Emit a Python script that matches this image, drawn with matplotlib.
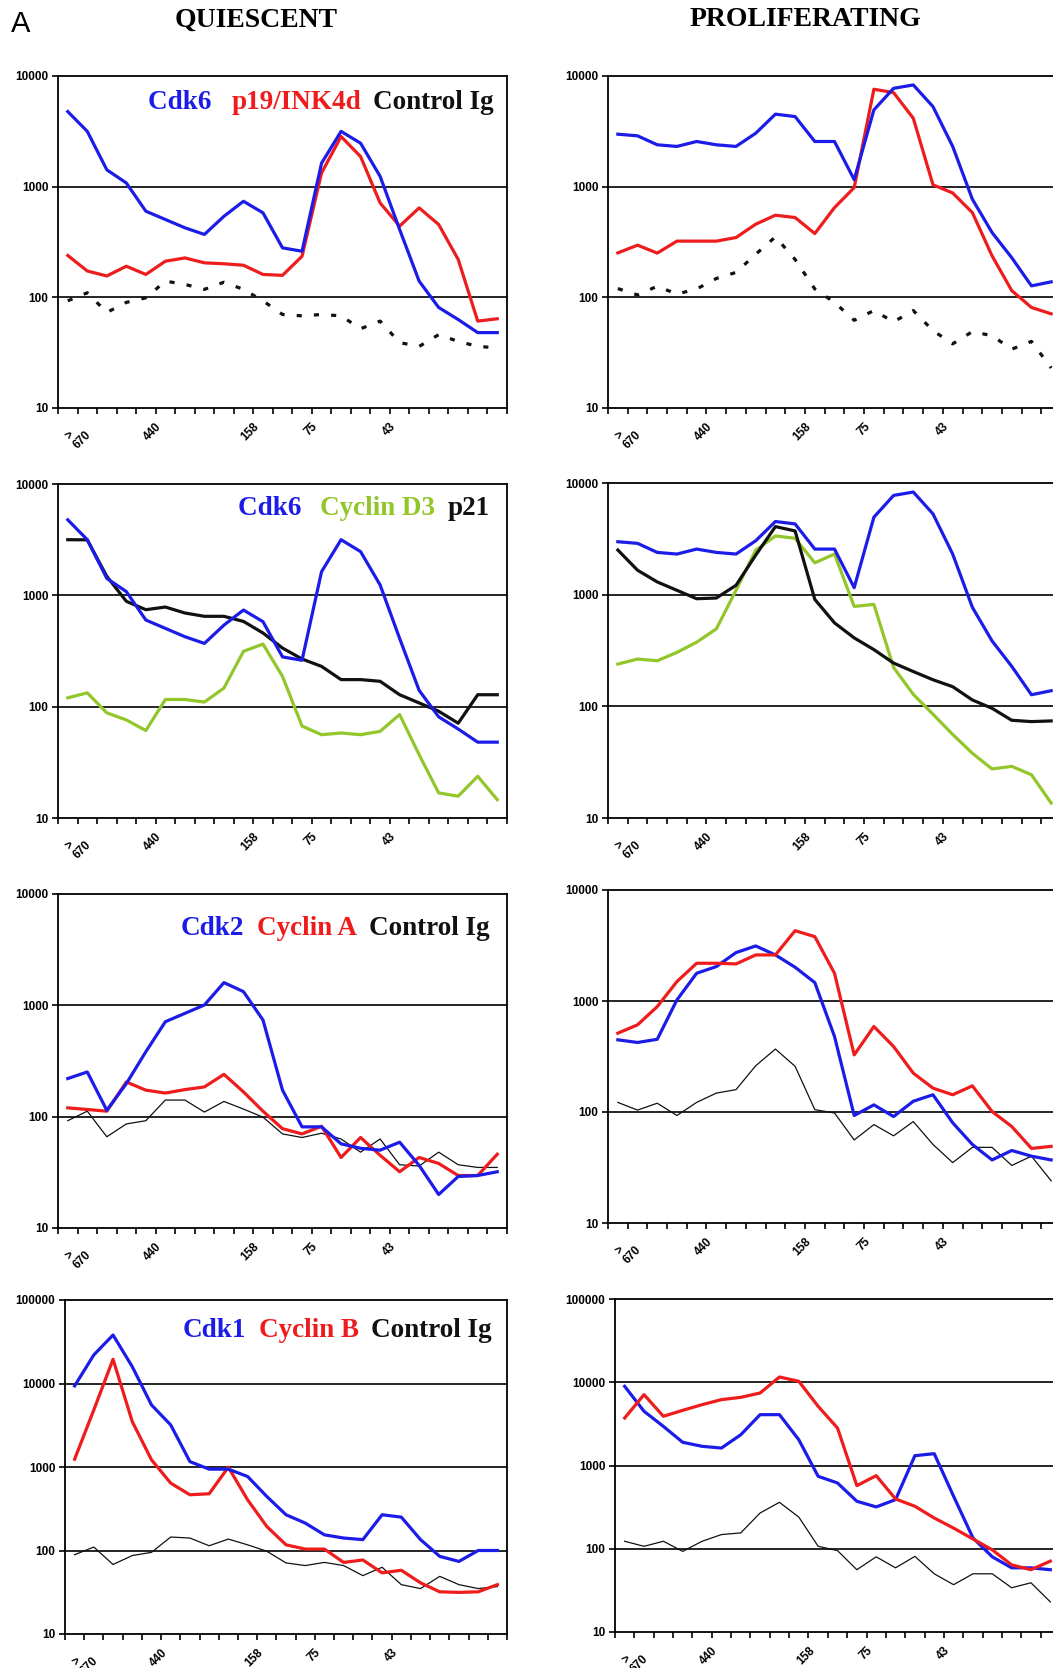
import numpy as np
import matplotlib
matplotlib.use("Agg")
from matplotlib import pyplot as plt
from matplotlib.ticker import NullLocator
from matplotlib.offsetbox import AnchoredOffsetbox, HPacker, TextArea

W, H = 1053, 1668  # output size in pixels, dpi=100

# gel filtration fractions, with size markers (kDa) on the category axis
n_fractions = 23
marker_pos = [1, 5, 10, 13, 17]
marker_labels = [">\n670", "440", "158", "75", "43"]

# --- row 1: Cdk6 / p19 / control Ig
cdk6_q = [4770, 3160, 1420, 1080, 600, 505, 425, 370, 540, 738, 580, 280, 261, 1630, 3160, 2470, 1240, 410, 140, 81, 63, 48, 48]
p19_q = [239, 173, 156, 191, 161, 212, 227, 205, 201, 195, 161, 158, 235, 1330, 2840, 1870, 713, 440, 643, 455, 220, 61, 64]
ctrl1_q = [93, 110, 73, 90, 99, 140, 131, 118, 137, 118, 93, 70, 68, 70, 68, 52, 61, 39, 36, 46, 40, 36, 35]
cdk6_p = [2980, 2880, 2390, 2310, 2560, 2390, 2310, 3040, 4520, 4300, 2560, 2560, 1156, 4940, 7740, 8300, 5290, 2310, 770, 385, 228, 127, 138]
p19_p = [252, 296, 251, 322, 322, 322, 347, 458, 552, 526, 377, 647, 980, 7590, 7080, 4150, 1040, 877, 583, 237, 115, 81, 71]
ctrl1_p = [120, 105, 126, 107, 119, 148, 168, 245, 352, 220, 119, 90, 62, 76, 60, 76, 50, 38, 49, 45, 34, 40, 23]

# --- row 2: Cdk6 / cyclin D3 / p21
cycd3_q = [120, 133, 88, 76, 61, 116, 116, 110, 147, 314, 365, 187, 67, 56, 58, 56, 60, 85, 37, 16.8, 15.7, 23.7, 14.6]
p21_q = [3160, 3150, 1480, 884, 743, 785, 694, 648, 648, 583, 459, 336, 268, 230, 175, 175, 169, 128, 108, 91, 71, 128, 128]
cycd3_p = [239, 265, 256, 304, 375, 494, 1094, 2506, 3355, 3200, 1928, 2310, 785, 818, 223, 128, 85, 56, 38, 27.5, 29, 24.4, 13.6]
p21_p = [2510, 1656, 1300, 1094, 920, 933, 1213, 2260, 4070, 3720, 907, 559, 410, 322, 244, 205, 173, 150, 114, 96, 75, 73, 74]

# --- row 3: Cdk2 / cyclin A / control Ig
cdk2_q = [220, 252, 114, 198, 383, 713, 847, 1007, 1600, 1328, 738, 173, 81, 81, 57, 52, 50, 59, 36.5, 20, 29, 29.6, 32]
cyca_q = [120, 116, 112, 205, 173, 163, 175, 185, 240, 167, 112, 78, 70, 82, 43, 65, 45, 32, 43, 38, 29.6, 29.6, 46]
ctrl3_q = [92, 112, 66, 86, 92, 141, 141, 110, 137, 117, 99, 70, 65, 71, 63, 48, 63, 37, 36, 48, 37, 35, 35]
cdk2_p = [447, 423, 452, 1023, 1778, 2042, 2730, 3133, 2600, 2014, 1465, 479, 93, 116, 91, 125, 143, 80, 51, 37, 45, 40, 37]
cyca_p = [513, 610, 890, 1496, 2188, 2188, 2158, 2600, 2600, 4300, 3800, 1778, 327, 589, 389, 224, 164, 143, 172, 101, 74, 47, 49]
ctrl3_p = [122, 104, 120, 93, 122, 148, 159, 261, 369, 258, 105, 98, 56, 77, 61, 82, 51, 35, 48, 48, 33, 40, 24]

# --- row 4: Cdk1 / cyclin B / control Ig
cdk1_q = [9360, 22000, 38100, 15900, 5540, 3190, 1160, 942, 942, 770, 444, 268, 213, 154, 141, 135, 268, 251, 135, 85, 74, 100, 100]
cycb_q = [1240, 4830, 19500, 3500, 1220, 641, 465, 478, 995, 405, 194, 117, 104, 104, 72, 77, 54, 58, 41, 32, 31.5, 32, 39]
ctrl4_q = [89, 110, 68, 87, 95, 145, 141, 114, 137, 117, 98, 71, 66, 72, 66, 50, 63, 39, 35, 49, 39, 35, 37]
cdk1_p = [8930, 4480, 2950, 1900, 1700, 1620, 2340, 4080, 4080, 2040, 741, 617, 372, 318, 389, 1312, 1387, 427, 135, 80, 59, 59, 56]
cycb_p = [3720, 7100, 3900, 4600, 5380, 6180, 6590, 7430, 11560, 10260, 5140, 2820, 573, 755, 396, 324, 234, 177, 131, 97, 64, 56, 71]
ctrl4_p = [123, 107, 123, 93, 123, 148, 155, 269, 361, 240, 107, 95, 56, 80, 59, 81, 50, 37, 50, 50, 34, 39, 23]

BLUE = '#1c1ce8'
RED = '#ee1c1c'
GREEN = '#92c62a'
BLACK = '#111111'
THICK = 2.3
THIN = 0.9
DOTS = (0, (1.6, 3.8))

SERIF = 'Liberation Serif'
SANS = 'Liberation Sans'

fig = plt.figure(figsize=(W / 100, H / 100), dpi=100)


def panel(box, ymax, lines, legend=None, legend_xy=None):
    # box = (left, top, right, bottom) in pixels
    l, t, r, b = box
    ax = fig.add_axes([l / W, 1 - b / H, (r - l) / W, (b - t) / H])
    x = np.arange(n_fractions) + 0.5
    for y, color, lw, ls in lines:
        ax.plot(x, y, color=color, lw=lw, ls=ls, zorder=3,
                solid_joinstyle='round', dash_capstyle='butt')
    ax.set_yscale('log')
    ax.set_ylim(10, ymax)
    ax.set_xlim(0, n_fractions)

    decades = 10.0 ** np.arange(1, int(round(np.log10(ymax))) + 1)
    ax.set_yticks(decades)
    ax.set_yticklabels(['%d' % d for d in decades], fontsize=8.5,
                       family=SANS, weight='bold')
    ax.yaxis.set_minor_locator(NullLocator())
    for d in decades[1:-1]:
        ax.axhline(d, color='black', lw=1.2, zorder=1)

    ax.set_xticks(marker_pos)
    ax.set_xticklabels(marker_labels, rotation=45, ha='right', va='top',
                       rotation_mode='anchor', multialignment='left',
                       fontsize=8.5, family=SANS, weight='bold',
                       linespacing=0.9)
    ax.set_xticks(range(n_fractions + 1), minor=True)
    ax.tick_params(axis='both', which='both', direction='out', length=4,
                   width=1.2, color='black')
    ax.tick_params(axis='x', which='major', pad=5)
    ax.tick_params(axis='y', pad=3)
    for s in ax.spines.values():
        s.set_linewidth(1.3)

    if legend:
        parts = [TextArea(txt, textprops=dict(color=c, fontsize=19.5, family=SERIF,
                                               weight='bold'))
                 for txt, c in legend]
        pack = HPacker(children=parts, align='baseline', pad=0, sep=9)
        lx, ly = legend_xy
        anc = AnchoredOffsetbox(loc='upper right', child=pack, pad=0, borderpad=0,
                                frameon=False, bbox_to_anchor=(lx / W, 1 - ly / H),
                                bbox_transform=fig.transFigure)
        ax.add_artist(anc)
    return ax


# row 1
panel((58, 76, 507, 408), 1e4,
      [(ctrl1_q, BLACK, THICK, DOTS), (p19_q, RED, THICK, '-'), (cdk6_q, BLUE, THICK, '-')],
      [('Cdk6 ', BLUE), ('p19/INK4d', RED), ('Control Ig', BLACK)], (494, 90))
panel((608, 76, 1061, 408), 1e4,
      [(ctrl1_p, BLACK, THICK, DOTS), (p19_p, RED, THICK, '-'), (cdk6_p, BLUE, THICK, '-')])

# row 2
panel((58, 484, 507, 818), 1e4,
      [(cycd3_q, GREEN, THICK, '-'), (p21_q, BLACK, THICK, '-'), (cdk6_q, BLUE, THICK, '-')],
      [('Cdk6 ', BLUE), ('Cyclin D3', GREEN), ('p21', BLACK)], (490, 496))
panel((608, 483, 1061, 818), 1e4,
      [(cycd3_p, GREEN, THICK, '-'), (p21_p, BLACK, THICK, '-'), (cdk6_p, BLUE, THICK, '-')])

# row 3
panel((58, 894, 507, 1228), 1e4,
      [(ctrl3_q, BLACK, THIN, '-'), (cyca_q, RED, THICK, '-'), (cdk2_q, BLUE, THICK, '-')],
      [('Cdk2', BLUE), ('Cyclin A', RED), ('Control Ig', BLACK)], (490, 916))
panel((608, 890, 1061, 1223), 1e4,
      [(ctrl3_p, BLACK, THIN, '-'), (cdk2_p, BLUE, THICK, '-'), (cyca_p, RED, THICK, '-')])

# row 4
panel((65, 1300, 507, 1634), 1e5,
      [(ctrl4_q, BLACK, THIN, '-'), (cycb_q, RED, THICK, '-'), (cdk1_q, BLUE, THICK, '-')],
      [('Cdk1', BLUE), ('Cyclin B', RED), ('Control Ig', BLACK)], (492, 1318))
panel((615, 1299, 1060, 1632), 1e5,
      [(ctrl4_p, BLACK, THIN, '-'), (cdk1_p, BLUE, THICK, '-'), (cycb_p, RED, THICK, '-')])

fig.text(256 / W, 1 - 20 / H, 'QUIESCENT', ha='center', va='center',
         family=SERIF, fontsize=20, weight='bold')
fig.text(805 / W, 1 - 20 / H, 'PROLIFERATING', ha='center', va='center',
         family=SERIF, fontsize=20, weight='bold')
fig.text(11 / W, 1 - 24 / H, 'A', ha='left', va='center', family=SANS, fontsize=21)

fig.savefig('out.png', dpi=100)
